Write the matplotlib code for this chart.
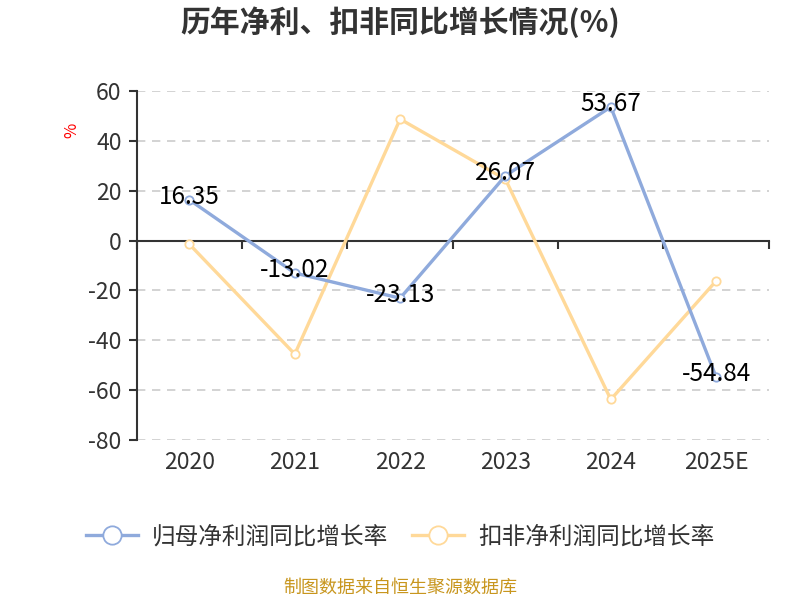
import matplotlib
matplotlib.use("Agg")
from matplotlib import pyplot as plt

plt.rcParams['font.family'] = ['Noto Sans CJK SC', 'DejaVu Sans']

# chart data
years = ["2020", "2021", "2022", "2023", "2024", "2025E"]
net_profit_growth = [16.35, -13.02, -23.13, 26.07, 53.67, -54.84]
deducted_growth = [-1.5, -45.6, 48.8, 24.6, -63.8, -16.2]
yticks = [60, 40, 20, 0, -20, -40, -60, -80]

blue = "#8FAADC"
orange = "#FFD999"
text_col = "#333333"

fig = plt.figure(figsize=(8, 6), dpi=100)
ax = fig.add_axes([0.171, 0.267, 0.79, 0.581])

x = list(range(len(years)))
ax.plot(x, net_profit_growth, color=blue, lw=2.4, marker="o", ms=6,
        mfc="white", mec=blue, mew=1.3, label="归母净利润同比增长率", zorder=4)
ax.plot(x, deducted_growth, color=orange, lw=2.4, marker="o", ms=6,
        mfc="white", mec=orange, mew=1.3, label="扣非净利润同比增长率", zorder=3)

for xi, v in zip(x, net_profit_growth):
    ax.annotate(f"{v:.2f}", (xi, v), xytext=(0, 2), textcoords="offset points",
                ha="center", va="center", fontsize=17.5, color="black", zorder=5)

ax.set_xlim(-0.5, len(years) - 0.5)
ax.set_ylim(-80, 60)
ax.set_yticks(yticks)
ax.set_yticklabels([str(t) for t in yticks], fontsize=16.5, color=text_col)
ax.yaxis.grid(True, linestyle=(0, (5, 4)), color="#CCCCCC", lw=1.2)
ax.tick_params(axis="y", length=6, width=1.5, color=text_col, pad=5)

# zero line with ticks at band boundaries
ax.spines["bottom"].set_position(("data", 0))
ax.spines["bottom"].set_color(text_col)
ax.spines["bottom"].set_linewidth(1.5)
ax.set_xticks([i - 0.5 for i in range(len(years) + 1)])
ax.set_xticklabels([])
ax.tick_params(axis="x", length=6, width=1.5, color=text_col)
ax.spines["left"].set_color(text_col)
ax.spines["left"].set_linewidth(1.5)
ax.spines["top"].set_visible(False)
ax.spines["right"].set_visible(False)

sec = ax.secondary_xaxis(0)
sec.set_xticks(x)
sec.set_xticklabels(years, fontsize=16.5, color=text_col)
sec.tick_params(length=0, pad=8)
sec.spines["bottom"].set_visible(False)

ax.text(-0.103, 0.888, "%", transform=ax.transAxes, rotation=90,
        color="red", fontsize=12, ha="center", va="center")

fig.text(0.5, 0.963, "历年净利、扣非同比增长情况(%)", ha="center", va="center",
         fontsize=21.5, fontweight="bold", color=text_col)

fig.legend(loc="center", bbox_to_anchor=(0.5, 0.105), ncol=2, frameon=False,
           fontsize=17, labelcolor=text_col, handlelength=2.2, columnspacing=1.0,
           handletextpad=0.6, markerscale=2.2)

fig.text(0.5, 0.02, "制图数据来自恒生聚源数据库", ha="center", va="center",
         fontsize=13, color="#C8961E")

fig.savefig("out.png", dpi=100)
